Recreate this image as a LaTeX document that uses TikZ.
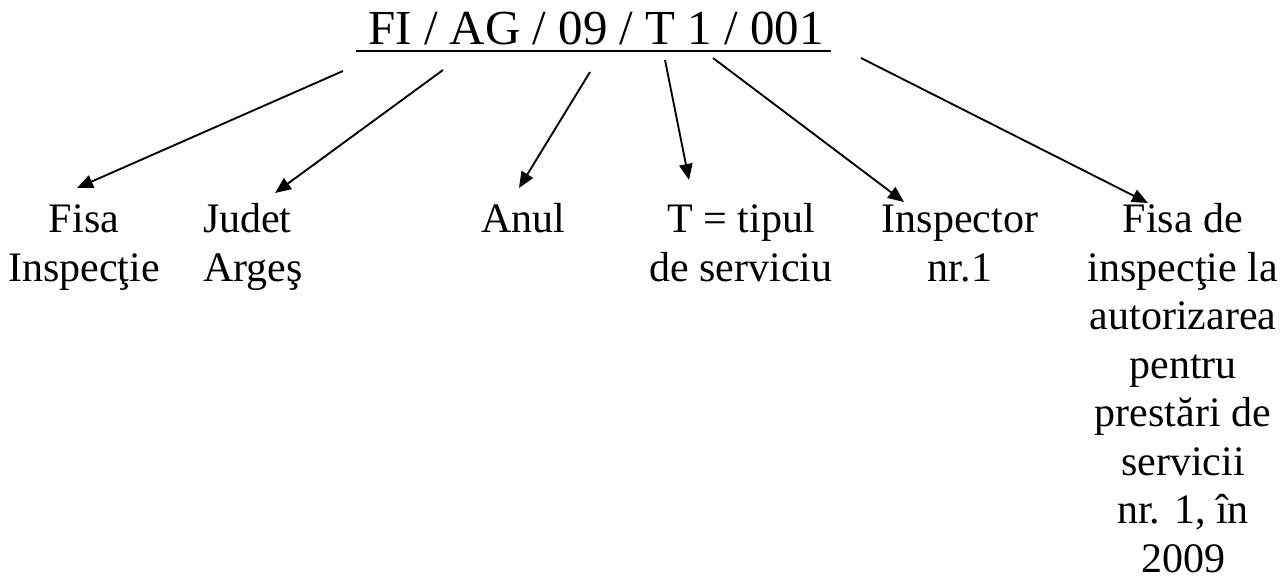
\documentclass[tikz,border=0pt]{standalone}
\usepackage{fontspec}
\setmainfont{Liberation Serif}
\usetikzlibrary{arrows.meta}
\newcommand\labc[1]{\begin{tabular}[t]{@{}c@{}}#1\end{tabular}}
\newcommand\labl[1]{\begin{tabular}[t]{@{}l@{}}#1\end{tabular}}
\tikzset{
  lbl/.style={inner sep=0pt, outer sep=0pt, anchor=base,
    font=\fontsize{31.5}{36.4}\selectfont},
  lbll/.style={lbl, anchor=base west},
  ttl/.style={inner sep=0pt, outer sep=0pt, anchor=base,
    font=\fontsize{36.7}{40}\selectfont},
  arr/.style={line width=1.4pt, -{Triangle[length=12pt,width=10pt]}},
  uline/.style={line width=2pt}
}
\begin{document}
\begin{tikzpicture}[x=0.75pt,y=-0.75pt]
\useasboundingbox (0,0) rectangle (1280,580);
% title
\node[ttl] (title) at (596,45) {FI / AG / 09 / T 1 / 001};
\coordinate (u1) at (356,51);
\coordinate (u2) at (831,51);
\draw[uline] (u1) -- (u2);
% labels
\node[lbl] (fisa) at (84,232.5) {\labc{Fisa\\Inspecţie}};
\node[lbll] (judet) at (203,232.5) {\labl{Judet\\Argeş}};
\node[lbl] (anul) at (523,232.5) {Anul};
\node[lbl] (tip) at (741,232.5) {\labc{T = tipul\\de serviciu}};
\node[lbl] (insp) at (960,232.5) {\labc{Inspector\\nr.1}};
\node[lbl] (fisade) at (1183,232.5) {\labc{Fisa de\\inspecţie la\\autorizarea\\pentru\\prestări de\\servicii\\nr. 1, în\\2009}};
% arrow ends
\coordinate (s1) at (343,71);   \coordinate (t1) at (77,188);
\coordinate (s2) at (443,70);   \coordinate (t2) at (275,193);
\coordinate (s3) at (590,72);   \coordinate (t3) at (519,188);
\coordinate (s4) at (665,60);   \coordinate (t4) at (689,180);
\coordinate (s5) at (713,58);   \coordinate (t5) at (904,202);
\coordinate (s6) at (861,58);   \coordinate (t6) at (1148,203);
\draw[arr] (s1) -- (t1);
\draw[arr] (s2) -- (t2);
\draw[arr] (s3) -- (t3);
\draw[arr] (s4) -- (t4);
\draw[arr] (s5) -- (t5);
\draw[arr] (s6) -- (t6);
\end{tikzpicture}
\end{document}
